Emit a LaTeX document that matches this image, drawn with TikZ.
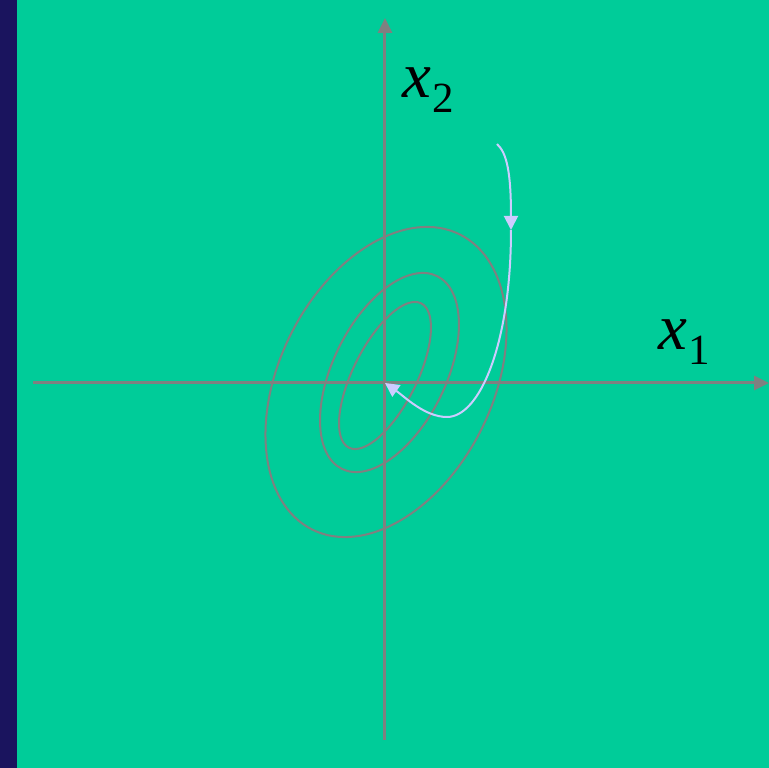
\documentclass[tikz,border=0pt]{standalone}
\usepackage{fontspec}
\setmainfont{Liberation Serif}
\usetikzlibrary{arrows.meta}
\definecolor{slidegreen}{RGB}{0,204,153}
\definecolor{slidenavy}{RGB}{26,20,94}
\definecolor{axisgray}{RGB}{128,128,128}
\definecolor{pathlilac}{RGB}{204,204,255}
\newcommand{\coordlabel}[1]{\textit{x}\kern1pt\raisebox{-15pt}{\fontsize{43}{43}\selectfont #1}}
\tikzset{
  axisline/.style={axisgray, line width=3pt, -{Triangle[length=15pt,width=14pt]}},
  levelset/.style={axisgray, line width=2pt},
  trajectory/.style={pathlilac, line width=2pt},
  axislabel/.style={inner sep=0pt, anchor=base west, font=\fontsize{65}{65}\selectfont}
}
\begin{document}
\begin{tikzpicture}[x=1pt,y=1pt]
\fill[slidegreen] (-385,-385) rectangle (384,383);
\fill[slidenavy] (-385,-385) rectangle (-368,383);
\useasboundingbox (-385,-385) rectangle (384,383);

% axes
\coordinate (xstart) at (-352,0);
\coordinate (xend) at (384,0);
\coordinate (ystart) at (0,-357);
\coordinate (yend) at (0,365);
\draw[axisline] (xstart) -- (xend);
\draw[axisline] (ystart) -- (yend);
\node[axislabel] (xonelabel) at (273,33) {\coordlabel{1}};
\node[axislabel] (xtwolabel) at (17,285) {\coordlabel{2}};

% level sets
\draw[levelset, shift={(1,1)}, rotate=63.4] (0,0) ellipse (165 and 106.5);
\draw[levelset, shift={(4.5,10.5)}, rotate=63.7] (0,0) ellipse (107.5 and 56.4);
\draw[levelset, shift={(0,7.5)}, rotate=63.4] (0,0) ellipse (80.7 and 31.8);

% trajectory
\coordinate (trajstart) at (112,239);
\coordinate (trajmid) at (126,153);
\coordinate (trajlow) at (62,-34);
\coordinate (origin) at (0,0);
\draw[trajectory, -{Triangle[length=14pt,width=14pt]}] (trajstart) .. controls (122,230) and (126,210) .. (trajmid);
\draw[trajectory, -{Triangle[length=14pt,width=14pt]}] (trajmid) .. controls (126,40) and (95,-34) .. (trajlow)
  .. controls (40,-34) and (20,-14) .. (origin);
\end{tikzpicture}
\end{document}
